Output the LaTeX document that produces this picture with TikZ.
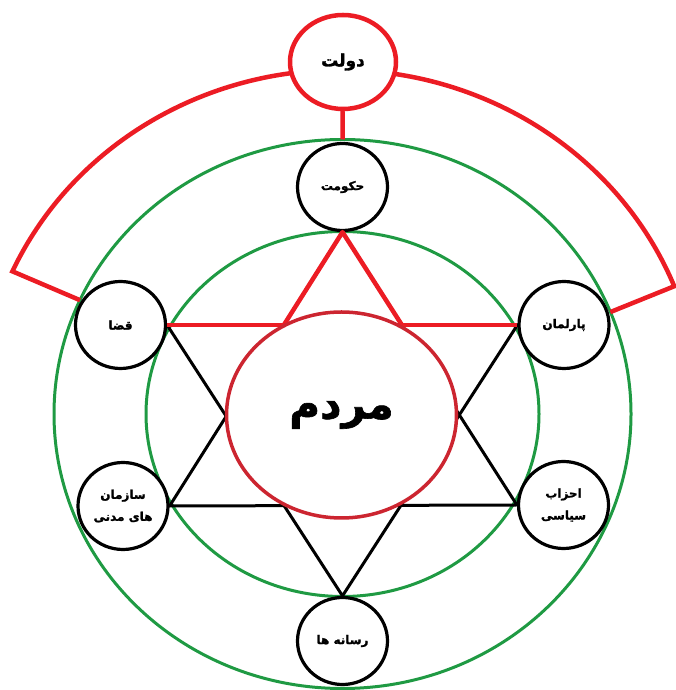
\documentclass[tikz,border=0pt]{standalone}
\usepackage{fontspec}
\usetikzlibrary{shapes.geometric}
\newfontfamily\farsi[Script=Arabic,BoldFeatures={FakeBold=1.5}]{DejaVu Sans}
\TeXXeTstate=1
\newcommand{\farsitext}[1]{\beginR#1\endR}
\definecolor{govred}{HTML}{EC1C24}
\definecolor{ringgreen}{HTML}{1F9A43}
\definecolor{peoplered}{HTML}{CC2530}
\begin{document}
\begin{tikzpicture}[x=1pt,y=1pt,
    ring/.style={draw=ringgreen,line width=3pt},
    govline/.style={draw=govred,line width=4.5pt},
    starline/.style={draw=black,line width=3pt},
    organ/.style={ellipse,draw=black,line width=3.2pt,fill=white,inner sep=0pt,
      minimum width=90pt,minimum height=87pt,align=center,
      font=\farsi\bfseries\fontsize{12}{22}\selectfont}]
  \useasboundingbox (0,0) rectangle (675,690);
  \coordinate (c) at (342.5,276);
  \coordinate (bandc) at (340,276);
  \coordinate (ringtop) at (342.5,550.5);
  % green rings
  \draw[ring] (c) ellipse[x radius=196.5pt,y radius=182.5pt];
  \draw[ring] (c) ellipse[x radius=288.5pt,y radius=274.5pt];
  % state band
  \draw[govline] ([shift={(155.5:288.5pt and 274.5pt)}]c) -- ([shift={(155.5:360pt and 344pt)}]bandc)
    arc[start angle=155.5,end angle=21.8,x radius=360pt,y radius=344pt]
    -- ([shift={(21.8:288.5pt and 274.5pt)}]c);
  % organs
  \foreach \name/\x/\y/\lbl in {
      hokumat/342.5/503/{\farsitext{حکومت}},
      qaza/120.5/365/{\farsitext{قضا}},
      parlemaan/564/365/{\farsitext{پارلمان}},
      sazman/123/184/{\farsitext{سازمان}\\\farsitext{های مدنی}},
      ahzab/563.5/185/{\farsitext{احزاب}\\\farsitext{سیاسی}},
      resaneh/342.5/49/{\farsitext{رسانه ها}}}
    \node[organ] (\name) at (\x,\y) {\lbl};
  \node[organ,draw=govred,line width=4.5pt,minimum width=106pt,minimum height=94pt,
    font=\farsi\bfseries\fontsize{17}{20}\selectfont] (dowlat) at (343,628) {\farsitext{دولت}};
  % star
  \draw[starline] (hokumat.south) -- (sazman.east) -- (ahzab.west) -- cycle;
  \draw[starline] (resaneh.north) -- (qaza.east) -- (parlemaan.west) -- cycle;
  \begin{scope}
    \clip (qaza.east) rectangle (parlemaan.west |- hokumat.center);
    \draw[govline,line join=round] (sazman.east) -- (hokumat.south) -- (ahzab.west);
  \end{scope}
  \draw[govline] (qaza.east) -- (parlemaan.west);
  % people
  \node[ellipse,draw=peoplered,line width=3.5pt,fill=white,minimum width=230pt,minimum height=206pt,
    font=\farsi\bfseries\fontsize{42}{46}\selectfont] (mardom) at (341.5,275) {\farsitext{مردم}};
  \draw[govline] (dowlat) -- (ringtop);
\end{tikzpicture}
\end{document}
